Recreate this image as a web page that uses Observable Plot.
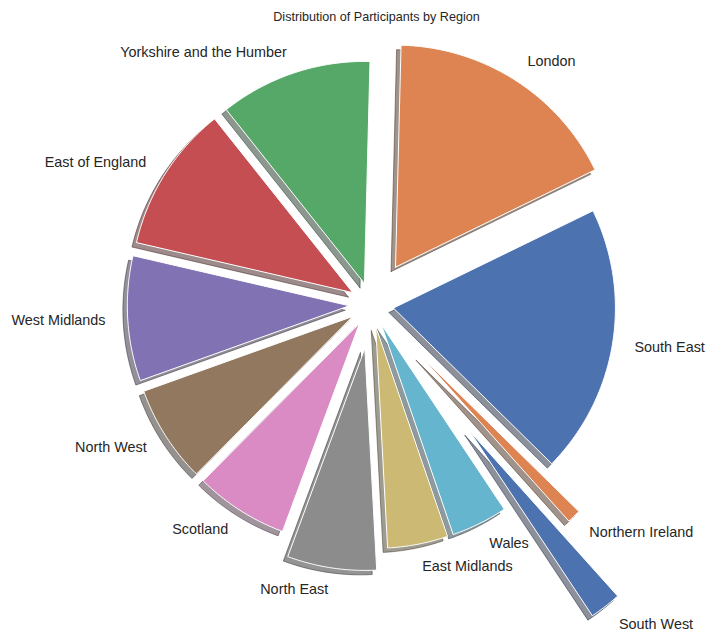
<!DOCTYPE html>
<html><head><meta charset="utf-8">
<script src="https://cdn.jsdelivr.net/npm/d3@7"></script>
<script src="https://cdn.jsdelivr.net/npm/@observablehq/plot@0.6"></script>
<style>body{margin:0;background:#fff;}#chart svg{display:block;}</style>
</head><body><div id="chart"></div>
<script>
// ---- data ----
const chartTitle = "Distribution of Participants by Region";
const regions = ["South East","London","Yorkshire and the Humber","East of England","West Midlands","North West","Scotland","North East","East Midlands","Wales","South West","Northern Ireland"];
const participants = [196,174,111,107,91,71,68,65,44,41,23,10];
const explode = [0.1,0.2,0.1,0.1,0.1,0.1,0.1,0.2,0.1,0.1,0.72,0.32];
const palette = ["#4C72B0","#DD8452","#55A868","#C44E52","#8172B3","#937860","#DA8BC3","#8C8C8C","#CCB974","#64B5CD"];
const startAngle = -44.5;   // degrees, counter-clockwise
const labelDistance = 1.1;
const shadowOffset = -0.02;

// ---- geometry in pie units (radius = 1) ----
const W = 707, H = 631, CX = 371, CY = 304, R = 222;
const total = d3.sum(participants);
const rad = Math.PI / 180;
const wedgePts = [], shadowPts = [], labels = [];
let theta = startAngle;
regions.forEach((name, i) => {
  const span = 360 * participants[i] / total;
  const t1 = theta, t2 = theta + span, tm = (t1 + t2) / 2;
  theta = t2;
  const ox = explode[i] * Math.cos(tm * rad), oy = explode[i] * Math.sin(tm * rad);
  const color = palette[i % palette.length];
  const c = d3.rgb(color);
  const shadowColor = d3.rgb(c.r * 0.3, c.g * 0.3, c.b * 0.3).formatHex();
  const n = Math.max(4, Math.ceil(span * 2));
  const pts = [[ox, oy]];
  for (let k = 0; k <= n; k++) {
    const a = (t1 + span * k / n) * rad;
    pts.push([ox + Math.cos(a), oy + Math.sin(a)]);
  }
  pts.push([ox, oy]);
  pts.forEach(([x, y], j) => {
    wedgePts.push({key: name, x, y, color, j});
    shadowPts.push({key: name, x: x + shadowOffset, y: y + shadowOffset, color: shadowColor, j});
  });
  const lx = ox + labelDistance * Math.cos(tm * rad);
  const ly = oy + labelDistance * Math.sin(tm * rad);
  labels.push({name, x: lx, y: ly, side: lx > 0 ? "left" : "right"});
});

const font = "'Liberation Sans', Arial, 'DejaVu Sans', sans-serif";
const chart = Plot.plot({
  width: W, height: H,
  margin: 0,
  style: {background: "#fff", fontFamily: font, overflow: "visible"},
  x: {domain: [-CX / R, (W - CX) / R], range: [0, W], axis: null},
  y: {domain: [-(H - CY) / R, CY / R], range: [H, 0], axis: null},
  color: {type: "identity"},
  marks: [
    Plot.line(shadowPts, {x: "x", y: "y", z: "key", fill: "color", stroke: "color", strokeWidth: 1, fillOpacity: 0.5, strokeOpacity: 0.5, curve: "linear"}),
    Plot.line(wedgePts, {x: "x", y: "y", z: "key", fill: "color", stroke: "white", strokeWidth: 1, strokeLinejoin: "miter", curve: "linear"}),
    Plot.text(labels.filter(d => d.side === "left"), {x: "x", y: "y", text: "name", textAnchor: "start", fontSize: 14.4, fill: "#262626"}),
    Plot.text(labels.filter(d => d.side === "right"), {x: "x", y: "y", text: "name", textAnchor: "end", fontSize: 14.4, fill: "#262626"}),
    Plot.text([chartTitle], {frameAnchor: "top", dx: 22.5, dy: 12, text: d => d, fontSize: 12.6, fill: "#262626"})
  ]
});
document.getElementById("chart").appendChild(chart);
</script>
</body></html>
